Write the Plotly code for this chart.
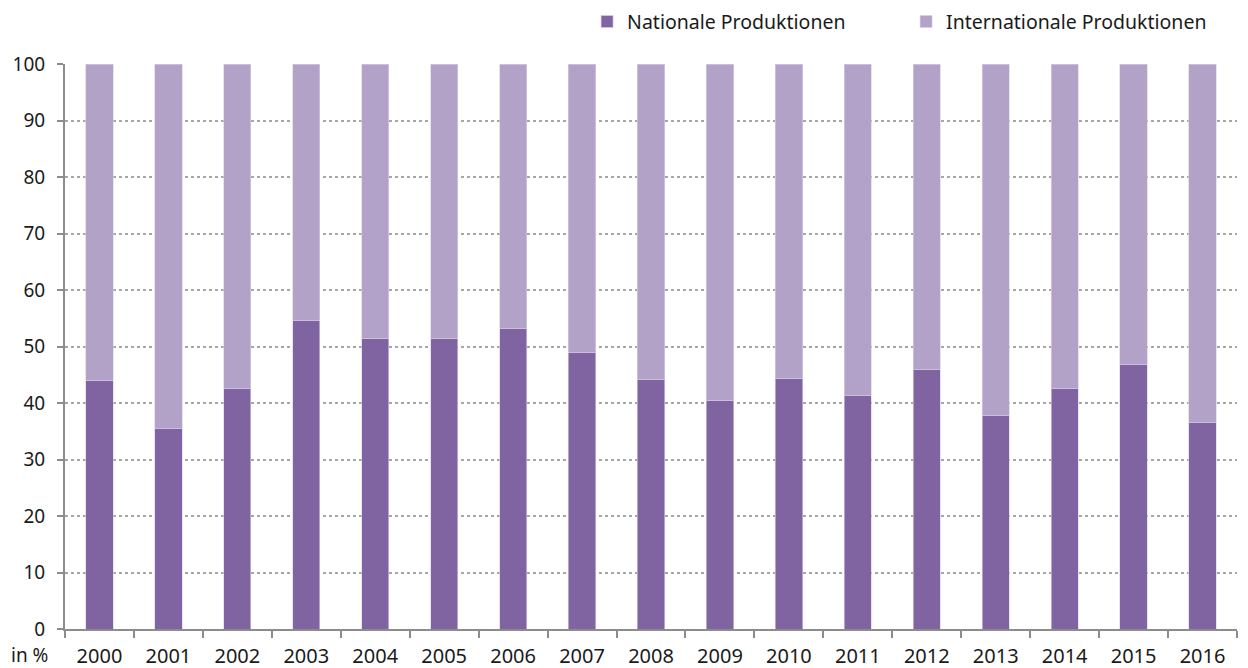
import plotly.graph_objects as go

years = [str(y) for y in range(2000, 2017)]
national = [44.0, 35.5, 42.6, 54.6, 51.4, 51.4, 53.1, 48.9, 44.1, 40.5, 44.3, 41.3, 46.0, 37.8, 42.5, 46.8, 36.6]
international = [round(100 - v, 1) for v in national]

dark = "#8064A2"
light = "#B3A2C7"
font_family = "Noto Sans, Open Sans, sans-serif"

fig = go.Figure()
fig.add_trace(go.Bar(x=years, y=national, name="Nationale Produktionen",
                     marker=dict(color=dark, line=dict(color="#D9D0E6", width=0.6))))
fig.add_trace(go.Bar(x=years, y=international, name="Internationale Produktionen",
                     marker=dict(color=light, line=dict(color="#D9D0E6", width=0.6))))

fig.update_layout(
    barmode="stack",
    bargap=0.605,
    width=1240, height=660,
    margin=dict(l=57, r=11, t=56, b=39, autoexpand=False),
    paper_bgcolor="white", plot_bgcolor="white",
    font=dict(family=font_family, size=19, color="#1a1a1a"),
    showlegend=True,
    legend=dict(orientation="h", xref="container", yref="container",
                x=0.467, xanchor="left", y=0.979, yanchor="middle",
                font=dict(size=19.5), traceorder="normal",
                entrywidth=274, itemwidth=30, bgcolor="rgba(0,0,0,0)"),
    xaxis=dict(showline=True, linecolor="#8c8c8c", linewidth=2, automargin=False,
               ticks="outside", tickson="boundaries", ticklen=7, tickwidth=2, tickcolor="#8c8c8c",
               ticklabelstandoff=8,
               tickfont=dict(size=20), showgrid=False),
    yaxis=dict(range=[0, 100], dtick=10, showline=True, linecolor="#8c8c8c", linewidth=2,
               automargin=False, ticklabelstandoff=8,
               ticks="outside", ticklen=6, tickwidth=2, tickcolor="#8c8c8c",
               showgrid=True, gridcolor="#a6a6a6", griddash="dot", gridwidth=1.5,
               tickfont=dict(size=19), zeroline=False),
    annotations=[dict(text="in %", xref="paper", yref="paper", x=-0.0307, y=0, yshift=-26,
                      xanchor="center", yanchor="middle", showarrow=False, font=dict(size=19))],
)

fig.write_html("out.html")
